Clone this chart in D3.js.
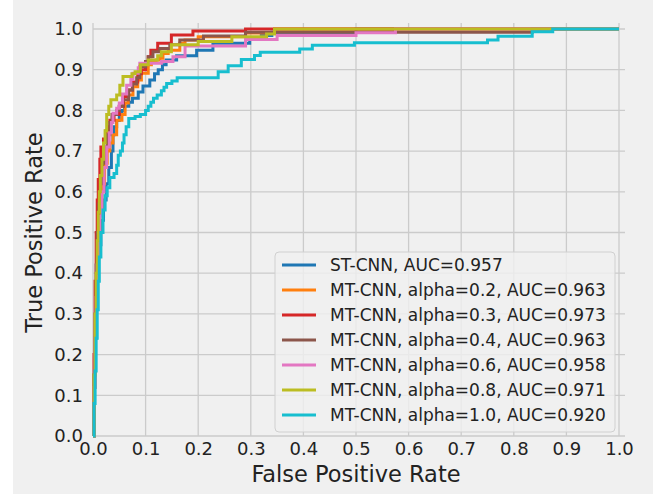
<!DOCTYPE html>
<html><head><meta charset="utf-8">
<script src="https://cdn.jsdelivr.net/npm/d3@7/dist/d3.min.js"></script>
<style>body{margin:0;background:#fff}svg{display:block}</style>
</head><body><svg id="c" width="653" height="496"></svg>
<script>
const seriesNames = ["ST-CNN, AUC=0.957","MT-CNN, alpha=0.2, AUC=0.963","MT-CNN, alpha=0.3, AUC=0.973","MT-CNN, alpha=0.4, AUC=0.963","MT-CNN, alpha=0.6, AUC=0.958","MT-CNN, alpha=0.8, AUC=0.971","MT-CNN, alpha=1.0, AUC=0.920"];
const seriesColors = ["#1f77b4","#ff7f0e","#d62728","#8c564b","#e377c2","#bcbd22","#17becf"];
const xTickLabels = ["0.0","0.1","0.2","0.3","0.4","0.5","0.6","0.7","0.8","0.9","1.0"];
const yTickLabels = ["0.0","0.1","0.2","0.3","0.4","0.5","0.6","0.7","0.8","0.9","1.0"];

// ST-CNN
const fprST  = [0,0.002,0.004,0.006,0.008,0.01,0.015,0.02,0.025,0.03,0.035,0.038,0.04,0.045,0.05,0.055,0.06,0.068,0.075,0.086,0.095,0.108,0.117,0.124,0.132,0.139,0.159,0.197,0.228,0.298,0.32,0.34,0.5,1];
const tprST  = [0,0.12,0.24,0.34,0.42,0.47,0.53,0.58,0.62,0.66,0.70,0.74,0.76,0.775,0.79,0.80,0.81,0.82,0.83,0.845,0.86,0.875,0.89,0.90,0.912,0.924,0.934,0.948,0.965,0.975,0.984,0.992,1,1];
// alpha=0.2
const fprA02 = [0,0.002,0.004,0.006,0.008,0.01,0.013,0.017,0.022,0.027,0.032,0.038,0.045,0.055,0.061,0.067,0.076,0.085,0.092,0.105,0.111,0.12,0.127,0.133,0.143,0.165,0.175,0.2,0.29,0.345,1];
const tprA02 = [0,0.12,0.24,0.35,0.44,0.5,0.56,0.62,0.67,0.70,0.72,0.74,0.776,0.79,0.818,0.838,0.858,0.875,0.891,0.912,0.918,0.924,0.928,0.94,0.948,0.965,0.973,0.981,0.99,1,1];
// alpha=0.3
const fprA03 = [0,0.002,0.004,0.006,0.008,0.01,0.013,0.015,0.02,0.025,0.029,0.032,0.04,0.05,0.058,0.065,0.075,0.085,0.092,0.1,0.105,0.11,0.123,0.149,0.19,0.29,1];
const tprA03 = [0,0.2,0.38,0.5,0.58,0.63,0.68,0.71,0.73,0.75,0.76,0.776,0.79,0.81,0.834,0.85,0.87,0.89,0.90,0.92,0.932,0.948,0.965,0.985,0.995,1,1];
// alpha=0.4
const fprA04 = [0,0.002,0.004,0.006,0.008,0.011,0.014,0.018,0.022,0.027,0.032,0.036,0.045,0.05,0.057,0.068,0.075,0.083,0.089,0.1,0.105,0.114,0.127,0.146,0.165,0.21,0.29,0.835,1];
const tprA04 = [0,0.15,0.3,0.42,0.5,0.57,0.62,0.67,0.71,0.74,0.77,0.79,0.80,0.81,0.826,0.85,0.865,0.88,0.907,0.92,0.932,0.944,0.952,0.961,0.973,0.983,0.992,1,1];
// alpha=0.6
const fprA06 = [0,0.002,0.004,0.006,0.008,0.01,0.013,0.017,0.021,0.026,0.031,0.035,0.038,0.045,0.05,0.056,0.064,0.072,0.076,0.086,0.089,0.13,0.152,0.175,0.29,0.35,0.5,0.575,1];
const tprA06 = [0,0.12,0.24,0.34,0.42,0.48,0.54,0.60,0.66,0.71,0.745,0.77,0.793,0.805,0.818,0.84,0.862,0.876,0.891,0.905,0.916,0.92,0.932,0.958,0.974,0.984,0.991,1,1];
// alpha=0.8
const fprA08 = [0,0.002,0.004,0.006,0.008,0.01,0.012,0.014,0.017,0.02,0.023,0.026,0.03,0.034,0.045,0.051,0.057,0.074,0.08,0.09,0.105,0.123,0.13,0.149,0.2,0.264,0.33,0.345,1];
const tprA08 = [0,0.15,0.3,0.4,0.48,0.55,0.6,0.64,0.68,0.72,0.75,0.79,0.81,0.826,0.838,0.862,0.883,0.89,0.895,0.912,0.924,0.934,0.944,0.961,0.969,0.981,0.988,1,1];
// alpha=1.0
const fprA10 = [0,0.002,0.004,0.006,0.008,0.01,0.012,0.015,0.019,0.023,0.027,0.032,0.04,0.045,0.048,0.052,0.056,0.059,0.063,0.068,0.08,0.09,0.1,0.105,0.11,0.115,0.122,0.13,0.135,0.14,0.15,0.16,0.238,0.257,0.282,0.307,0.318,0.393,0.417,0.497,0.75,0.77,0.835,0.874,1];
const tprA10 = [0,0.08,0.16,0.24,0.31,0.38,0.44,0.5,0.555,0.59,0.61,0.635,0.645,0.665,0.69,0.70,0.72,0.74,0.76,0.78,0.785,0.79,0.80,0.81,0.82,0.83,0.838,0.848,0.857,0.866,0.872,0.88,0.895,0.91,0.925,0.935,0.943,0.951,0.96,0.966,0.973,0.982,0.993,1,1];

const fprList = [fprST,fprA02,fprA03,fprA04,fprA06,fprA08,fprA10];
const tprList = [tprST,tprA02,tprA03,tprA04,tprA06,tprA08,tprA10];

const svg = d3.select("#c");
const W = 653, H = 496;
const m = {left:93, right:619, top:29, bottom:436};

svg.append("rect").attr("x",13).attr("y",0).attr("width",W-13).attr("height",494).attr("fill","#f0f0f0");

const x = d3.scaleLinear().domain([0,1]).range([m.left,m.right]);
const y = d3.scaleLinear().domain([0,1]).range([m.bottom,m.top]);
const tickVals = d3.range(11).map(i=>i/10);

// grid
const g = svg.append("g");
g.selectAll(".vg").data(tickVals).join("line")
  .attr("x1",d=>x(d)).attr("x2",d=>x(d)).attr("y1",m.top-6).attr("y2",m.bottom)
  .attr("stroke","#cbcbcb").attr("stroke-width",1.3);
g.selectAll(".hg").data(tickVals).join("line")
  .attr("y1",d=>y(d)).attr("y2",d=>y(d)).attr("x1",m.left).attr("x2",m.right+6)
  .attr("stroke","#cbcbcb").attr("stroke-width",1.3);

// axes (tick labels only)
const xAxis = d3.axisBottom(x).tickValues(tickVals).tickFormat((d,i)=>xTickLabels[i]).tickSize(0).tickPadding(6);
const yAxis = d3.axisLeft(y).tickValues(tickVals).tickFormat((d,i)=>yTickLabels[i]).tickSize(0).tickPadding(10);
const gx = svg.append("g").attr("transform",`translate(0,${m.bottom})`).call(xAxis);
const gy = svg.append("g").attr("transform",`translate(${m.left},0)`).call(yAxis);
[gx,gy].forEach(a=>{
  a.select(".domain").remove();
  a.selectAll("text").attr("font-family","DejaVu Sans").attr("font-size",18).attr("fill","#222");
});

// curves
const line = d3.line().x(d=>x(d[0])).y(d=>y(d[1])).curve(d3.curveStepAfter);
const plot = svg.append("g");
fprList.forEach((f,k)=>{
  const pts = f.map((v,i)=>[v,tprList[k][i]]);
  plot.append("path").attr("d",line(pts)).attr("fill","none")
    .attr("stroke",seriesColors[k]).attr("stroke-width",3).attr("stroke-linejoin","miter");
});

// axis titles
svg.append("text").attr("x",(m.left+m.right)/2).attr("y",482).attr("text-anchor","middle")
  .attr("font-family","DejaVu Sans").attr("font-size",22.5).attr("fill","#222").text("False Positive Rate");
svg.append("text").attr("transform",`translate(42,${(m.top+m.bottom)/2}) rotate(-90)`).attr("text-anchor","middle")
  .attr("font-family","DejaVu Sans").attr("font-size",22.5).attr("fill","#222").text("True Positive Rate");

// legend
const lg = svg.append("g");
lg.append("rect").attr("x",275).attr("y",252).attr("width",340).attr("height",180).attr("rx",4)
  .attr("fill","#f0f0f0").attr("fill-opacity",0.8).attr("stroke","#d0d0d0").attr("stroke-width",1);
seriesNames.forEach((n,i)=>{
  const yy = 265 + i*25;
  lg.append("line").attr("x1",282).attr("x2",316).attr("y1",yy).attr("y2",yy)
    .attr("stroke",seriesColors[i]).attr("stroke-width",3);
  lg.append("text").attr("x",330).attr("y",yy).attr("dy","0.36em")
    .attr("font-family","DejaVu Sans").attr("font-size",17).attr("fill","#222").text(n);
});
</script></body></html>
